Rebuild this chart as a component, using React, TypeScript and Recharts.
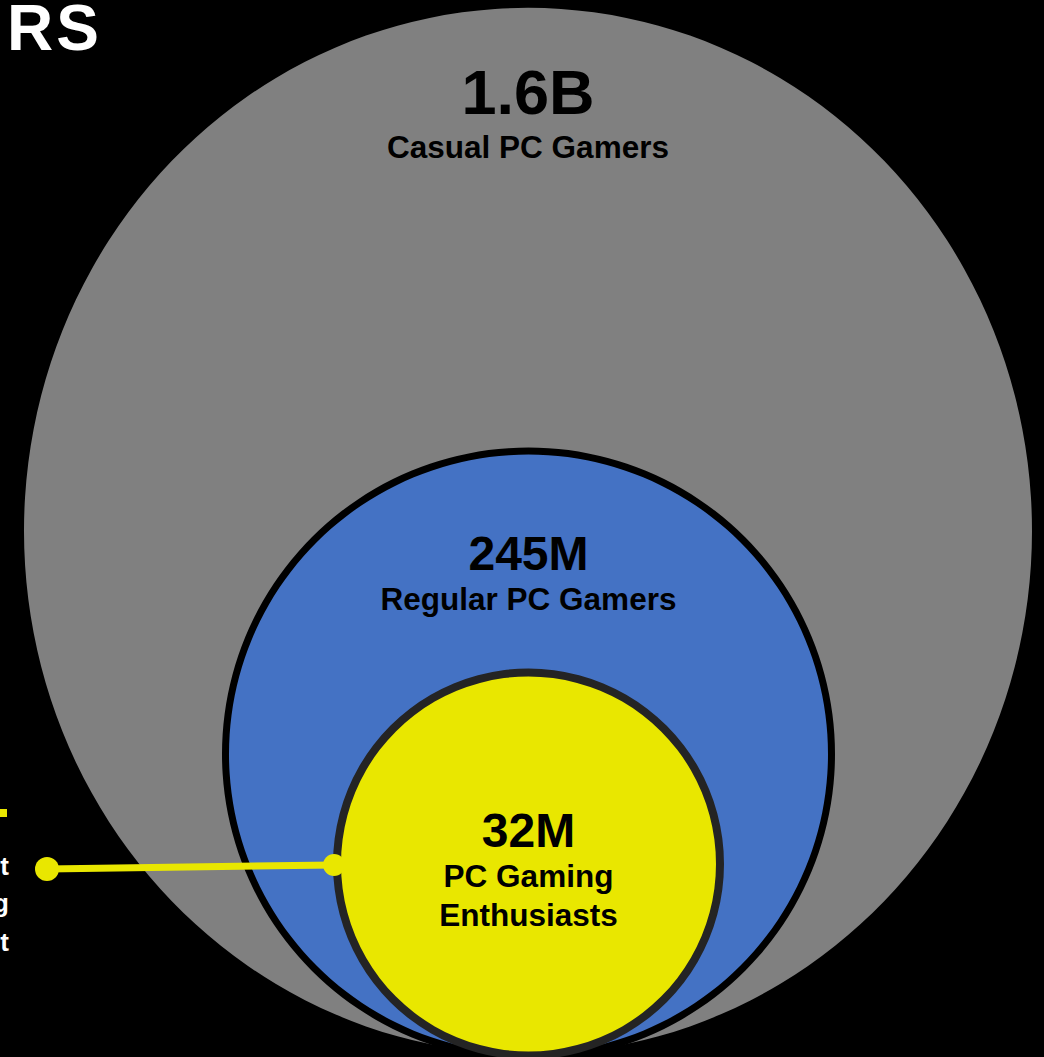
import React from 'react';
import { Cell, Pie, PieChart } from 'recharts';

// audience sizes, in millions
const CATEGORIES = ['Casual PC Gamers', 'Regular PC Gamers', 'PC Gaming Enthusiasts'];
const VALUES = [1600, 245, 32];
const VALUE_LABELS = ['1.6B', '245M', '32M'];
const NAME_LINES = [['Casual PC Gamers'], ['Regular PC Gamers'], ['PC Gaming', 'Enthusiasts']];
const FILLS = ['#808080', '#4472C4', '#E9E700'];

const W = 1044;
const H = 1057;
const FONT = 'Liberation Sans, Arial, sans-serif';

// circle geometry (px) and label baselines
const LAYOUT = [
  { cx: 528, cy: 531, r: 504, stretch: 1.038, ring: 0, ringColor: 'none', valueY: 114, valueSize: 63, nameY: [158] },
  { cx: 528.5, cy: 754, r: 303, stretch: 1, ring: 7, ringColor: '#000000', valueY: 570, valueSize: 48, nameY: [610] },
  { cx: 528.5, cy: 864, r: 191.5, stretch: 1, ring: 8, ringColor: '#242424', valueY: 847, valueSize: 48, nameY: [887, 926] },
];

const App = () => {
  const rows = CATEGORIES.map((name, i) => ({ name, value: VALUES[i] }));

  return (
    <div style={{ position: 'absolute', left: 0, top: 0, width: W, height: H, background: '#000', overflow: 'hidden' }}>
      <PieChart width={W} height={H} margin={{ top: 0, right: 0, bottom: 0, left: 0 }}>
        {rows.map((row, i) => {
          const c = LAYOUT[i];
          return [
            <Pie
              key={`fill-${i}`}
              data={[row]}
              dataKey="value"
              cx={c.cx}
              cy={c.cy}
              innerRadius={0}
              outerRadius={c.r}
              startAngle={90}
              endAngle={-270}
              stroke="none"
              isAnimationActive={false}
            >
              <Cell
                fill={FILLS[i]}
                style={c.stretch !== 1 ? { transform: `scaleY(${c.stretch})`, transformOrigin: `${c.cx}px ${c.cy}px` } : undefined}
              />
            </Pie>,
            c.ring > 0 ? (
              <Pie
                key={`ring-${i}`}
                data={[row]}
                dataKey="value"
                cx={c.cx}
                cy={c.cy}
                innerRadius={c.r - c.ring / 2}
                outerRadius={c.r + c.ring / 2}
                startAngle={90}
                endAngle={-270}
                stroke="none"
                isAnimationActive={false}
              >
                <Cell fill={c.ringColor} />
              </Pie>
            ) : null,
          ];
        })}
      </PieChart>

      <svg width={W} height={H} style={{ position: 'absolute', left: 0, top: 0, pointerEvents: 'none', fontFamily: FONT }}>
        {/* clipped slide title */}
        <text x={102} y={50} textAnchor="end" fill="#fff" fontWeight="bold" fontSize={64} letterSpacing={3}>
          RS
        </text>

        {/* clipped left callout */}
        <rect x={0} y={809} width={7} height={8} fill="#E9E700" />
        <text x={9} y={875} textAnchor="end" fill="#fff" fontWeight="bold" fontSize={26}>t</text>
        <text x={9} y={912} textAnchor="end" fill="#fff" fontWeight="bold" fontSize={26}>g</text>
        <text x={9} y={951} textAnchor="end" fill="#fff" fontWeight="bold" fontSize={26}>t</text>

        <line x1={47} y1={869} x2={334} y2={865} stroke="#E9E700" strokeWidth={7} />
        <circle cx={47} cy={869} r={12} fill="#E9E700" />
        <circle cx={334} cy={865} r={11} fill="#E9E700" />

        {LAYOUT.map((c, i) => (
          <g key={`lbl-${i}`} fill="#000" fontWeight="bold" textAnchor="middle">
            <text x={c.cx} y={c.valueY} fontSize={c.valueSize}>
              {VALUE_LABELS[i]}
            </text>
            {NAME_LINES[i].map((line, j) => (
              <text key={line} x={c.cx} y={c.nameY[j]} fontSize={31.5}>
                {line}
              </text>
            ))}
          </g>
        ))}
      </svg>
    </div>
  );
};

export default App;
